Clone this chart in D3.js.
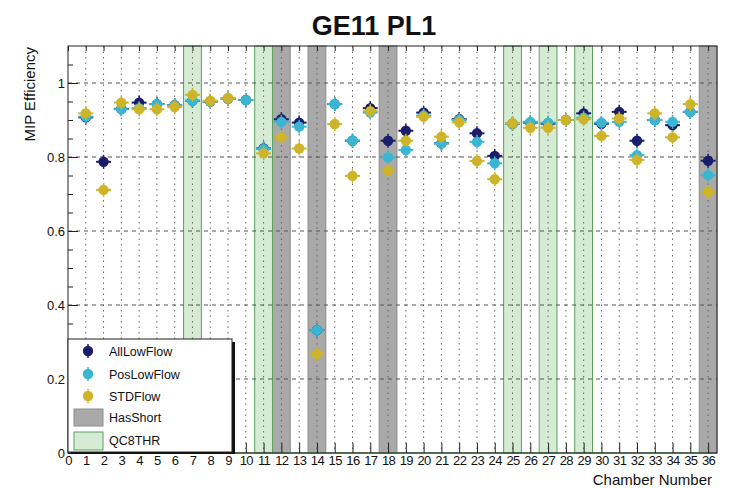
<!DOCTYPE html>
<html>
<head>
<meta charset="utf-8">
<script src="https://cdn.jsdelivr.net/npm/d3@7"></script>
<style>
  body { margin: 0; background: #fff; }
  text { font-family: "Liberation Sans", Arial, Helvetica, sans-serif; fill: #111; }
</style>
</head>
<body>
<svg id="chart" width="733" height="488"></svg>
<script>
// Chamber numbers and per-chamber MIP efficiency for each gas-flow configuration
const chambers = d3.range(1, 37);
const allLowFlow = [0.907, 0.787, 0.930, 0.947, 0.943, 0.940, 0.952, 0.950, 0.958, 0.954,
                    0.823, 0.902, 0.893, 0.332, 0.943, 0.844, 0.932, 0.844, 0.871, 0.920,
                    0.837, 0.902, 0.864, 0.803, 0.890, 0.893, 0.890, 0.900, 0.918, 0.890,
                    0.922, 0.844, 0.900, 0.886, 0.922, 0.790];
const posLowFlow = [0.909, null, 0.929, 0.932, 0.943, 0.940, 0.952, 0.950, 0.957, 0.954,
                    0.822, 0.895, 0.882, 0.332, 0.943, 0.844, 0.920, 0.799, 0.819, 0.912,
                    0.837, 0.900, 0.841, 0.783, 0.890, 0.895, 0.893, 0.900, 0.906, 0.893,
                    0.895, 0.805, 0.900, 0.895, 0.922, 0.751];
const stdFlow    = [0.918, 0.711, 0.947, 0.929, 0.929, 0.935, 0.968, 0.952, 0.959, null,
                    0.810, 0.853, 0.823, 0.268, 0.889, 0.749, 0.924, 0.763, 0.844, 0.909,
                    0.855, 0.894, 0.789, 0.740, 0.891, 0.879, 0.879, 0.900, 0.902, 0.857,
                    0.904, 0.792, 0.918, 0.853, 0.943, 0.706];

// Chambers flagged as having a short, and chambers with the QC8 threshold condition
const hasShort = [12, 14, 18, 36];
const qc8thr = [7, 11, 25, 27, 29];

// Axis ticks
const xTicks = d3.range(0, 37);
const yMajorTicks = [0, 0.2, 0.4, 0.6, 0.8, 1.0];
const yMinorTicks = d3.range(0, 22).map(i => +(i * 0.05).toFixed(2));

const series = [
  { name: "AllLowFlow", values: allLowFlow, color: "#1b1c6a" },
  { name: "PosLowFlow", values: posLowFlow, color: "#3ab6d3" },
  { name: "STDFlow",    values: stdFlow,    color: "#cdb429" }
];

const L = 68, R = 717, T = 46, B = 453;
const svg = d3.select("#chart");
const x = d3.scaleLinear().domain([0, 36.5]).range([L, R]);
const y = d3.scaleLinear().domain([0, 1.1]).range([B, T]);

const shortFill = "#a9a9a9", shortStroke = "#8c8c8c";
const qcFill = "#d6ebd4", qcStroke = "#5e9e5e";

// Flag bands, one bin wide around each chamber
svg.append("g").selectAll("rect").data(hasShort).join("rect")
  .attr("x", d => x(d - 0.5)).attr("width", d => x(d + 0.5) - x(d - 0.5))
  .attr("y", T).attr("height", B - T)
  .attr("fill", shortFill).attr("stroke", shortStroke).attr("stroke-width", 1);
svg.append("g").selectAll("rect").data(qc8thr).join("rect")
  .attr("x", d => x(d - 0.5)).attr("width", d => x(d + 0.5) - x(d - 0.5))
  .attr("y", T).attr("height", B - T)
  .attr("fill", qcFill).attr("stroke", qcStroke).attr("stroke-width", 1);

// Grid
svg.append("g").selectAll("line").data(chambers).join("line")
  .attr("x1", d => x(d)).attr("x2", d => x(d)).attr("y1", T).attr("y2", B)
  .attr("stroke", "#666").attr("stroke-width", 1).attr("stroke-dasharray", "1.5,4");
svg.append("g").selectAll("line").data(yMajorTicks.filter(v => v > 0)).join("line")
  .attr("x1", L).attr("x2", R).attr("y1", d => y(d)).attr("y2", d => y(d))
  .attr("stroke", "#555").attr("stroke-width", 1).attr("stroke-dasharray", "4,4");

// Baseline of the QC8THR histogram
svg.append("line").attr("x1", L).attr("x2", R).attr("y1", B).attr("y2", B)
  .attr("stroke", qcStroke).attr("stroke-width", 1.5);

// Frame
svg.append("rect").attr("x", L).attr("y", T).attr("width", R - L).attr("height", B - T)
  .attr("fill", "none").attr("stroke", "#222").attr("stroke-width", 1);

// Axes with inward ticks
const xAxis = svg.append("g").attr("transform", `translate(0,${B})`)
  .call(d3.axisBottom(x).tickValues(xTicks).tickSize(-10).tickPadding(3).tickFormat(d3.format("d")));
xAxis.select(".domain").remove();
xAxis.selectAll("line").attr("stroke", "#222");
xAxis.selectAll("text").attr("font-size", 13).attr("letter-spacing", -0.6)
  .attr("font-family", "Liberation Sans, Arial, sans-serif").attr("fill", "#222");

const xTop = svg.append("g").attr("transform", `translate(0,${T})`)
  .call(d3.axisTop(x).tickValues(xTicks).tickSize(-5).tickFormat(""));
xTop.select(".domain").remove();
xTop.selectAll("line").attr("stroke", "#222");

const yMinor = svg.append("g").attr("transform", `translate(${L},0)`)
  .call(d3.axisLeft(y).tickValues(yMinorTicks).tickSize(-5).tickFormat(""));
yMinor.select(".domain").remove();
yMinor.selectAll("line").attr("stroke", "#222");

const yAxis = svg.append("g").attr("transform", `translate(${L},0)`)
  .call(d3.axisLeft(y).tickValues(yMajorTicks).tickSize(-10).tickPadding(3)
    .tickFormat(d => d === 0 ? "0" : d3.format(".1f")(d).replace(/\.0$/, "")));
yAxis.select(".domain").remove();
yAxis.selectAll("line").attr("stroke", "#222");
yAxis.selectAll("text").attr("font-size", 13)
  .attr("font-family", "Liberation Sans, Arial, sans-serif").attr("fill", "#222");

// Data points with error bars
const halfBin = 0.42;
series.forEach(s => {
  const pts = chambers.map((c, i) => ({ c, v: s.values[i] })).filter(d => d.v != null);
  const g = svg.append("g");
  g.selectAll(".h").data(pts).join("line")
    .attr("x1", d => x(d.c - halfBin)).attr("x2", d => x(d.c + halfBin))
    .attr("y1", d => y(d.v)).attr("y2", d => y(d.v))
    .attr("stroke", s.color).attr("stroke-width", 2);
  g.selectAll(".v").data(pts).join("line")
    .attr("x1", d => x(d.c)).attr("x2", d => x(d.c))
    .attr("y1", d => y(d.v) - 7).attr("y2", d => y(d.v) + 7)
    .attr("stroke", s.color).attr("stroke-width", 1.5);
  g.selectAll("circle").data(pts).join("circle")
    .attr("cx", d => x(d.c)).attr("cy", d => y(d.v)).attr("r", 5.2)
    .attr("fill", s.color);
});

// Legend
const lg = svg.append("g");
lg.append("rect").attr("x", 71).attr("y", 342).attr("width", 164).attr("height", 112).attr("fill", "#111");
lg.append("rect").attr("x", 68).attr("y", 339).attr("width", 164).attr("height", 113)
  .attr("fill", "#fff").attr("stroke", "#222").attr("stroke-width", 1);
const rowY = [351, 374, 396];
series.forEach((s, i) => {
  lg.append("line").attr("x1", 88).attr("x2", 88).attr("y1", rowY[i] - 7).attr("y2", rowY[i] + 7)
    .attr("stroke", s.color).attr("stroke-width", 1.5);
  lg.append("circle").attr("cx", 88).attr("cy", rowY[i]).attr("r", 5.2).attr("fill", s.color);
  lg.append("text").attr("x", 109).attr("y", rowY[i] + 4.5).attr("font-size", 12.5).text(s.name);
});
lg.append("rect").attr("x", 74).attr("y", 409).attr("width", 29).attr("height", 17)
  .attr("fill", shortFill).attr("stroke", shortStroke);
lg.append("text").attr("x", 109).attr("y", 422).attr("font-size", 12.5).text("HasShort");
lg.append("rect").attr("x", 74).attr("y", 432).attr("width", 29).attr("height", 18)
  .attr("fill", qcFill).attr("stroke", qcStroke);
lg.append("text").attr("x", 109).attr("y", 445).attr("font-size", 12.5).text("QC8THR");

// Titles
svg.append("text").attr("x", 374).attr("y", 35).attr("text-anchor", "middle")
  .attr("font-size", 27).attr("font-weight", "bold").text("GE11 PL1");
svg.append("text").attr("transform", `translate(35,47) rotate(-90)`).attr("text-anchor", "end")
  .attr("font-size", 15).text("MIP Efficiency");
svg.append("text").attr("x", 712).attr("y", 485).attr("text-anchor", "end")
  .attr("font-size", 15).text("Chamber Number");
</script>
</body>
</html>
